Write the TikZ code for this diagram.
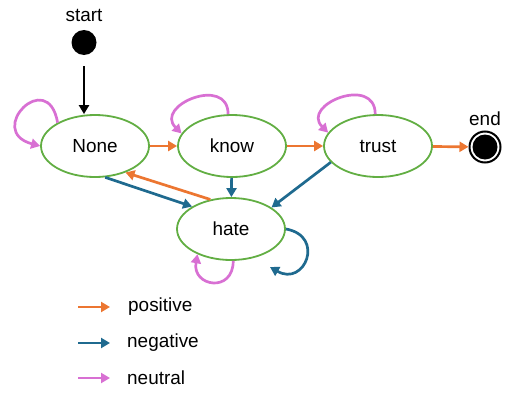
\documentclass[tikz,border=0pt]{standalone}
\usepackage{fontspec}
\setmainfont{Liberation Sans}
\usetikzlibrary{shapes.geometric,arrows.meta}
\definecolor{posorange}{HTML}{EC7631}
\definecolor{negblue}{HTML}{1F6A8F}
\definecolor{neupink}{HTML}{D870D3}
\definecolor{stategreen}{HTML}{62AE43}
\tikzset{
  state/.style={ellipse, draw=stategreen, line width=1.8bp,
    minimum width=108bp, minimum height=62bp, inner sep=0pt},
  arr/.style={-{Triangle[length=9bp,width=10bp]}, line width=2.7bp},
  posarrow/.style={arr, draw=posorange},
  negarrow/.style={arr, draw=negblue},
  neuarrow/.style={arr, draw=neupink},
}
\begin{document}
\begin{tikzpicture}[x=1bp,y=1bp,font=\fontsize{19}{22}\selectfont]
    \useasboundingbox (0,0) rectangle (510,392);

    % states
    \node[state] (none) at (95,246) {None};
    \node[state] (know) at (232,246) {know};
    \node[state] (trust) at (378,246) {trust};
    \node[state] (hate) at (231,163) {hate};

    % start and end
    \node[circle, fill, inner sep=0pt, minimum size=25bp] (start) at (84,349.5) {};
    \node (startlabel) at (84,377) {start};
    \node[circle, draw, line width=2bp, inner sep=0pt, minimum size=31bp] (endstate) at (485,245) {};
    \fill (endstate) circle (12.5bp);
    \node (endlabel) at (485,273) {end};

    \draw[arr, draw=black] ([yshift=-11bp]start.south) -- (start.south |- none.north);

    % positive
    \draw[posarrow] (none) -- (know);
    \draw[posarrow] (know) -- (trust);
    \draw[posarrow] (trust) -- (endstate);
    \draw[posarrow] (hate.125) -- (none.-41);

    % negative
    \draw[negarrow] (know) -- (hate);
    \draw[negarrow] (none.-72) -- (hate.150);
    \draw[negarrow] (trust.199) -- (hate.28);
    \coordinate (bluetip) at (270,125);
    \draw[negarrow] (hate.east) to [out=-10, in=-30, looseness=2.5] (bluetip);

    % neutral
    \draw[neuarrow] (none.148) to [out=100, in=165, looseness=5] (none.180);
    \draw[neuarrow] (know.97) to [out=90, in=135, looseness=2] (know.166);
    \draw[neuarrow] (trust.95) to [out=90, in=135, looseness=2] (trust.165);
    \draw[neuarrow] (hate.-86) to [out=-90, in=-100, looseness=2.3] (hate.217);

    % legend
    \coordinate (posa) at (78,85);
    \coordinate (posb) at (110,85);
    \coordinate (nega) at (78,49);
    \coordinate (negb) at (110,49);
    \coordinate (neua) at (78,14);
    \coordinate (neub) at (110,14);
    \draw[posarrow] (posa) -- (posb);
    \draw[negarrow] (nega) -- (negb);
    \draw[neuarrow] (neua) -- (neub);
    \node[anchor=west, inner sep=0pt] (poslabel) at (128,85) {positive};
    \node[anchor=west, inner sep=0pt] (neglabel) at (127,49) {negative};
    \node[anchor=west, inner sep=0pt] (neulabel) at (127,14) {neutral};
\end{tikzpicture}
\end{document}
